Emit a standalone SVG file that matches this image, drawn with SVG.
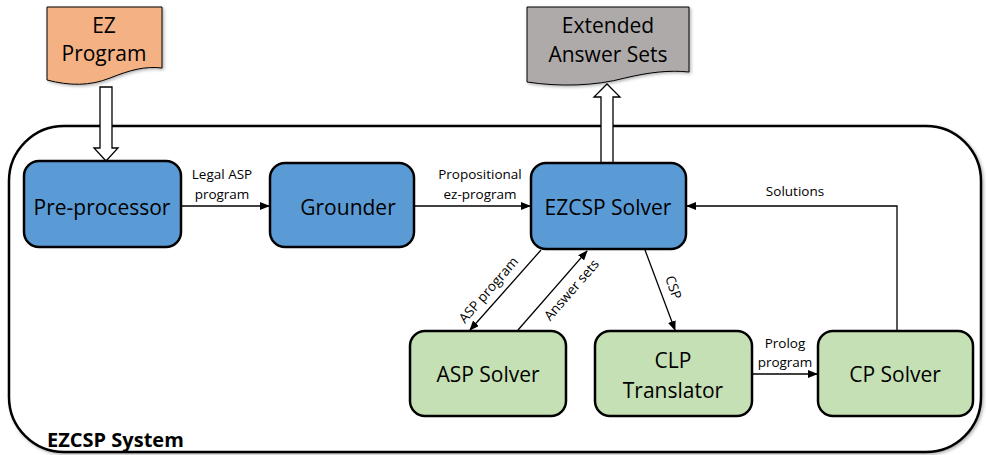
<svg xmlns="http://www.w3.org/2000/svg" width="986" height="455" viewBox="0 0 986 455">
<defs>
<marker id="ah" markerWidth="10" markerHeight="8" refX="9" refY="4" orient="auto" markerUnits="userSpaceOnUse">
<path d="M0,0 L10,4 L0,8 Z" fill="#000"/>
</marker>
<filter id="sh" x="-10%" y="-10%" width="130%" height="130%">
<feDropShadow dx="1.5" dy="1.5" stdDeviation="1.5" flood-color="#000" flood-opacity="0.3"/>
</filter>
</defs>
<style>
.blue{fill:#5B9BD5;stroke:#000;stroke-width:2.5}
.green{fill:#C5E0B4;stroke:#000;stroke-width:2.5}
.t{font-family:"Open Sans","Liberation Sans",sans-serif;font-size:21px;fill:#000;text-anchor:middle}
.s{font-family:"Open Sans","Liberation Sans",sans-serif;font-size:13.5px;fill:#000;text-anchor:middle}
.c{fill:none;stroke:#000;stroke-width:1.3;marker-end:url(#ah)}
.blk{fill:#fff;stroke:#000;stroke-width:1.3}
</style>
<rect id="system" x="9" y="126" width="972" height="326" rx="55" ry="55" fill="#fff" stroke="#000" stroke-width="2.5" filter="url(#sh)"/>
<text x="47" y="447" font-family="'Open Sans','Liberation Sans',sans-serif" font-size="20" font-weight="bold">EZCSP System</text>
<g id="ez-program">
<path d="M47,7 H162 V68 C145,66 130,70 110,78 C90,86 70,86 47,80 Z" fill="#F4B183" stroke="#000" stroke-width="1" filter="url(#sh)"/>
<text class="t" x="104" y="33">EZ</text>
<text class="t" x="104" y="61">Program</text>
</g>
<g id="extended-answer-sets">
<path d="M127,7 H289 V72 C270,70 250,72 225,78 C195,86 160,87 127,82 Z" transform="translate(400,0)" fill="#AEAAAA" stroke="#000" stroke-width="1" filter="url(#sh)"/>
<text class="t" x="608" y="33">Extended</text>
<text class="t" x="608" y="62">Answer Sets</text>
</g>
<g id="connectors">
<path class="blk" d="M100,87 H112 V148 H118 L106,161 L94,148 H100 Z"/>
<path class="blk" d="M601,163 V97 H594 L607,84 L620,97 H613 V163 Z"/>
<line class="c" x1="181" y1="206" x2="269" y2="206"/>
<text class="s" x="222" y="179">Legal ASP</text>
<text class="s" x="222" y="199">program</text>
<line class="c" x1="414" y1="206" x2="530" y2="206"/>
<text class="s" x="480" y="179">Propositional</text>
<text class="s" x="480" y="199">ez-program</text>
<polyline class="c" points="897,331 897,206 687,206"/>
<text class="s" x="795" y="196">Solutions</text>
<line class="c" x1="752" y1="374" x2="817" y2="374"/>
<text class="s" x="785" y="348">Prolog</text>
<text class="s" x="785" y="367">program</text>
<line class="c" x1="541" y1="250" x2="470" y2="330"/>
<text class="s" transform="translate(492,293) rotate(-49)">ASP program</text>
<line class="c" x1="518" y1="330" x2="587" y2="251"/>
<text class="s" transform="translate(575,293) rotate(-49)">Answer sets</text>
<line class="c" x1="645" y1="250" x2="675" y2="330"/>
<text class="s" transform="translate(669,289) rotate(70)">CSP</text>
</g>
<g id="pre-processor">
<rect class="blue" x="24" y="161" width="157" height="86" rx="15"/>
<text class="t" x="102" y="215">Pre-processor</text>
</g>
<g id="grounder">
<rect class="blue" x="270" y="163" width="144" height="84" rx="15"/>
<text class="t" x="348" y="215">Grounder</text>
</g>
<g id="ezcsp-solver">
<rect class="blue" x="531" y="163" width="155" height="86" rx="15"/>
<text class="t" x="608" y="215">EZCSP Solver</text>
</g>
<g id="asp-solver">
<rect class="green" x="410" y="331" width="156" height="85" rx="15"/>
<text class="t" x="488" y="382">ASP Solver</text>
</g>
<g id="clp-translator">
<rect class="green" x="595" y="331" width="157" height="85" rx="15"/>
<text class="t" x="673" y="368">CLP</text>
<text class="t" x="673" y="398">Translator</text>
</g>
<g id="cp-solver">
<rect class="green" x="818" y="331" width="155" height="85" rx="15"/>
<text class="t" x="895" y="382">CP Solver</text>
</g>
</svg>
